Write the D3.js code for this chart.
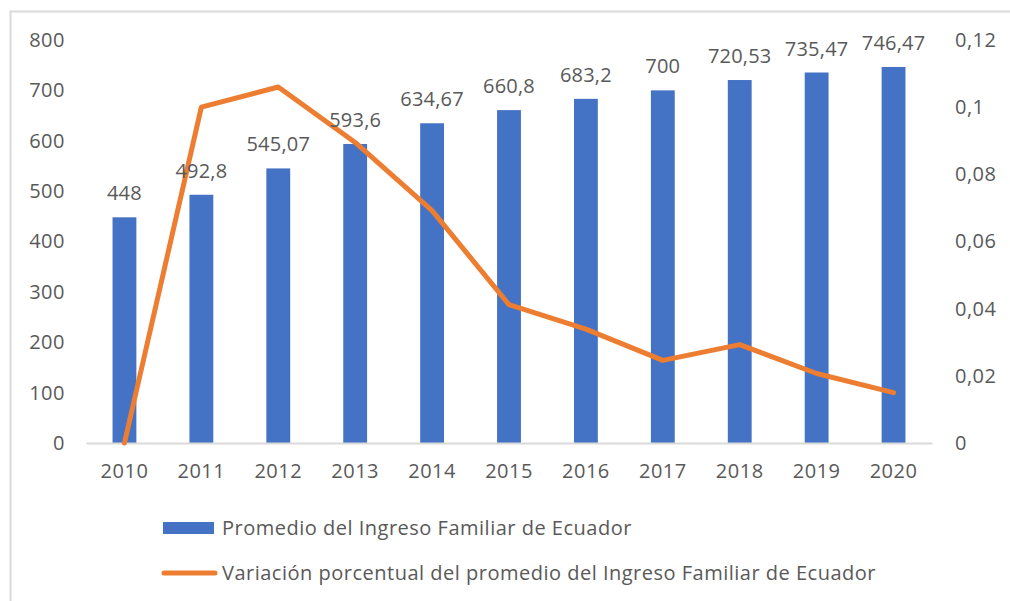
<!DOCTYPE html>
<html>
  <head>
    <meta charset="UTF-8" />
    <title>Ingreso Familiar de Ecuador</title>
    <script src="https://cdn.jsdelivr.net/npm/d3@7"></script>
    <style>
      body { margin: 0; background: #fff; }
      svg text { font-family: "Open Sans", "Noto Sans", sans-serif; fill: #595959; letter-spacing: 0.5px; }
    </style>
  </head>
  <body>
    <div class="chart"></div>
    <script>
      // data
      let years = ["2010", "2011", "2012", "2013", "2014", "2015", "2016", "2017", "2018", "2019", "2020"];
      let ingreso = [448, 492.8, 545.07, 593.6, 634.67, 660.8, 683.2, 700, 720.53, 735.47, 746.47];
      let variacion = [0, 0.1, 0.106, 0.0895, 0.0692, 0.0412, 0.0339, 0.0246, 0.0293, 0.0207, 0.015];
      let leftTicks = [0, 100, 200, 300, 400, 500, 600, 700, 800];
      let rightTicks = [0, 0.02, 0.04, 0.06, 0.08, 0.1, 0.12];
      let seriesNames = [
        "Promedio del Ingreso Familiar de Ecuador",
        "Variación porcentual del promedio del Ingreso Familiar de Ecuador",
      ];

      let width = 1010;
      let height = 601;
      let blue = "#4472C4";
      let orange = "#ED7D31";
      let fmt = (d) => String(d).replace(".", ",");

      let svg = d3
        .select(".chart")
        .append("svg")
        .attr("width", width)
        .attr("height", height);

      // outer frame (only top and left visible)
      svg.append("rect")
        .attr("x", 10.5).attr("y", 11.5)
        .attr("width", 1010).attr("height", 620)
        .attr("fill", "none").attr("stroke", "#d9d9d9").attr("stroke-width", 2);

      let x = d3.scaleBand().domain(years).range([86, 932]).paddingInner(0.69).paddingOuter(0.345);
      let y = d3.scaleLinear().domain([0, 800]).range([443, 40]);
      let y2 = d3.scaleLinear().domain([0, 0.12]).range([443, 40]);

      // left axis
      let left = svg.append("g")
        .attr("transform", "translate(65,0)")
        .call(d3.axisLeft(y).tickValues(leftTicks).tickSize(0).tickPadding(0));
      left.select(".domain").remove();
      left.selectAll("text").style("font-size", "20px");

      // right axis
      let right = svg.append("g")
        .attr("transform", "translate(955,0)")
        .call(d3.axisRight(y2).tickValues(rightTicks).tickSize(0).tickPadding(0).tickFormat(fmt));
      right.select(".domain").remove();
      right.selectAll("text").style("font-size", "20px");

      // bars
      svg.selectAll(".bar")
        .data(ingreso)
        .enter()
        .append("rect")
        .attr("class", "bar")
        .attr("x", (d, i) => x(years[i]))
        .attr("y", (d) => y(d))
        .attr("width", x.bandwidth())
        .attr("height", (d) => y(0) - y(d))
        .attr("fill", blue);

      // bottom axis
      let bottom = svg.append("g")
        .attr("transform", `translate(0,${y(0)})`)
        .call(d3.axisBottom(x).tickSize(0).tickPadding(21));
      bottom.select(".domain").attr("stroke", "#d9d9d9").attr("stroke-width", 2);
      bottom.selectAll("text").style("font-size", "20px");

      // line
      let line = d3.line()
        .x((d, i) => x(years[i]) + x.bandwidth() / 2)
        .y((d) => y2(d));

      svg.append("path")
        .datum(variacion)
        .attr("fill", "none")
        .attr("stroke", orange)
        .attr("stroke-width", 5)
        .attr("stroke-linejoin", "round")
        .attr("stroke-linecap", "round")
        .attr("d", line);

      // bar labels
      svg.selectAll(".lbl")
        .data(ingreso)
        .enter()
        .append("text")
        .attr("class", "lbl")
        .attr("x", (d, i) => x(years[i]) + x.bandwidth() / 2)
        .attr("y", (d) => y(d) - 17)
        .attr("text-anchor", "middle")
        .style("font-size", "20px")
        .style("letter-spacing", "0.2px")
        .text(fmt);

      // legend
      let legend = svg.append("g");
      legend.append("rect")
        .attr("x", 163).attr("y", 522).attr("width", 51).attr("height", 12)
        .attr("fill", blue);
      legend.append("line")
        .attr("x1", 164).attr("x2", 215).attr("y1", 573).attr("y2", 573)
        .attr("stroke", orange).attr("stroke-width", 5).attr("stroke-linecap", "round");
      legend.selectAll("text")
        .data(seriesNames)
        .enter()
        .append("text")
        .attr("x", 222)
        .attr("y", (d, i) => 528 + i * 45)
        .attr("dy", "0.35em")
        .style("font-size", "20px")
        .text((d) => d);
    </script>
  </body>
</html>
